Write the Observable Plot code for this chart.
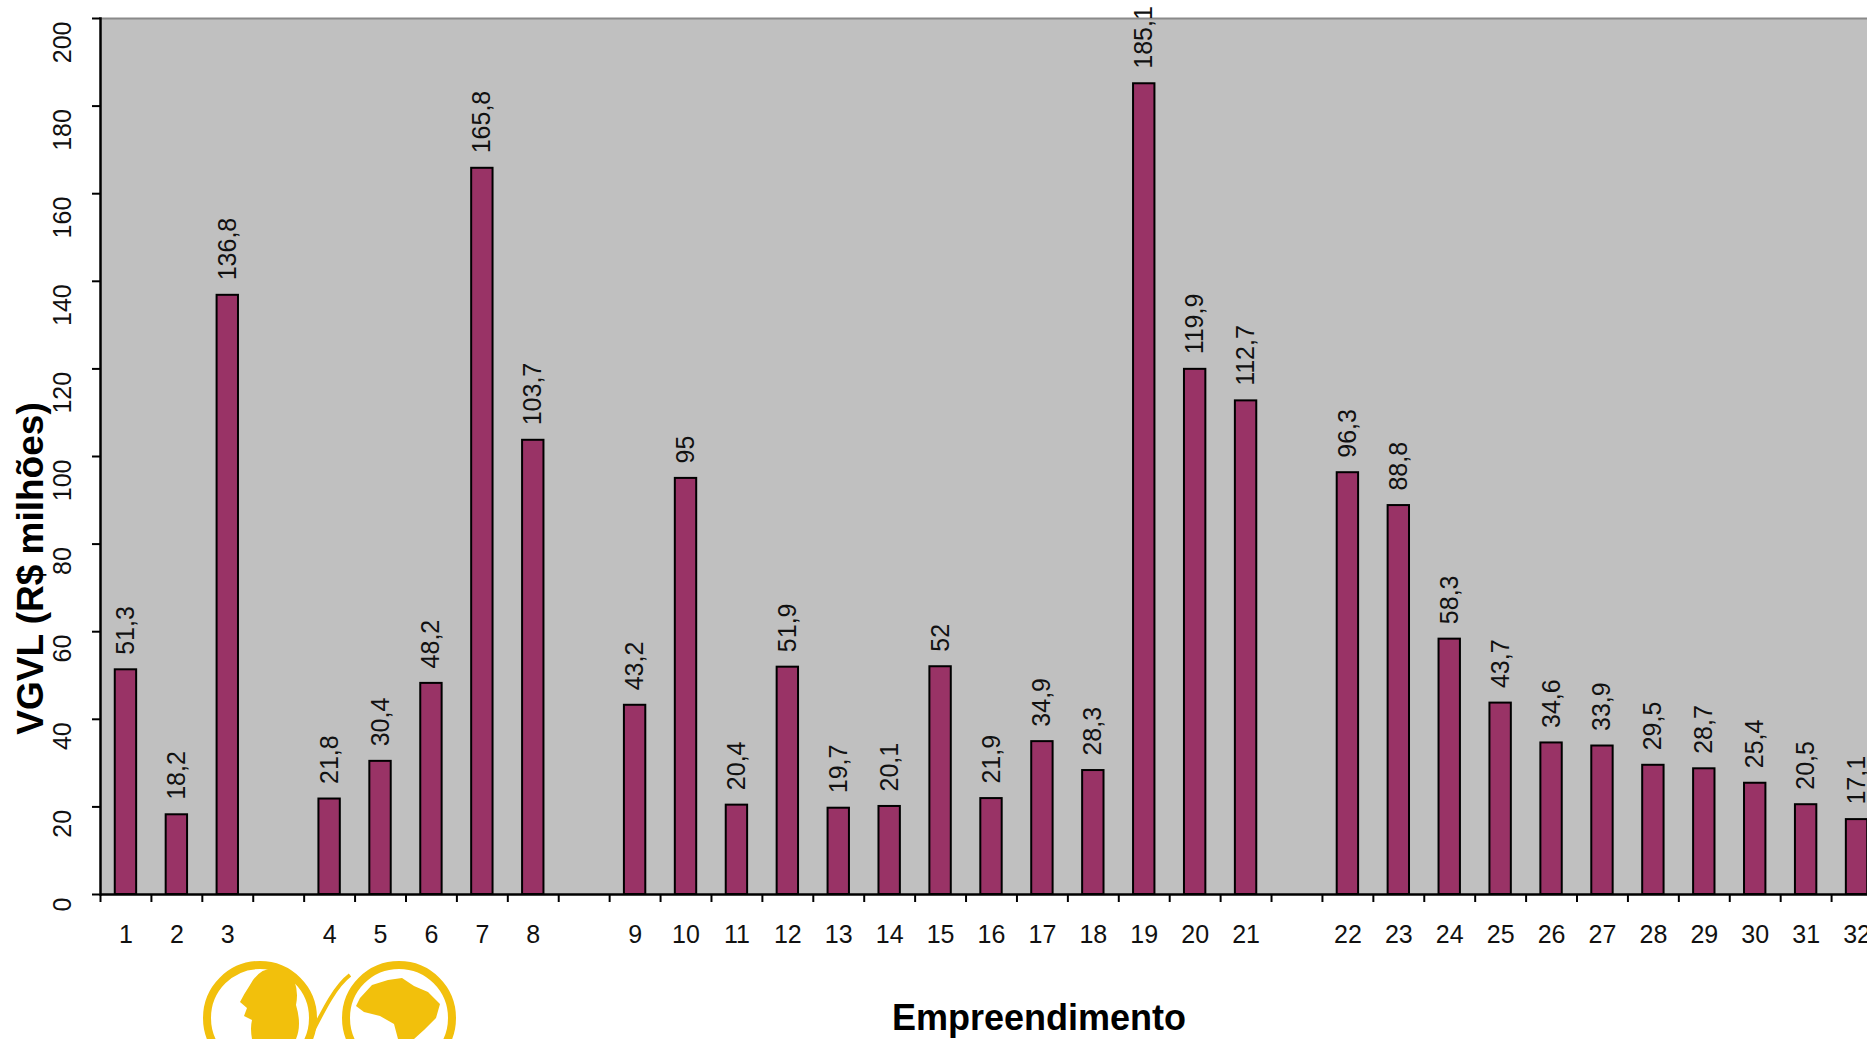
<!DOCTYPE html>
<html>
<head>
<meta charset="utf-8">
<script src="https://cdn.jsdelivr.net/npm/d3@7"></script>
<script src="https://cdn.jsdelivr.net/npm/@observablehq/plot@0.6"></script>
<style>
html, body { margin: 0; padding: 0; background: #fff; overflow: hidden; width: 1867px; height: 1039px; }
#chart { position: absolute; left: 0; top: 0; }
#logo { position: absolute; left: 0; top: 0; pointer-events: none; }
</style>
</head>
<body>
<div id="chart"></div>
<svg id="logo" width="1867" height="1039">
  <g fill="none" stroke="#f2c00c" stroke-width="8">
    <circle cx="260" cy="1018" r="53"></circle>
    <circle cx="399" cy="1018" r="53"></circle>
    <path d="M300,1055 C315,1030 330,990 350,975" stroke-width="4"></path>
  </g>
  <g fill="#f2c00c">
    <path d="M250,985 Q262,962 288,970 Q300,985 296,1005 Q302,1025 296,1039 L252,1039 Q250,1028 252,1020 L244,1016 L247,1008 L240,1002 Q244,994 250,985 Z"></path>
    <path d="M360,998 L372,985 L388,980 L402,978 L414,986 L428,992 L440,1004 L436,1018 L424,1030 L414,1039 L398,1039 L394,1024 L380,1016 L364,1012 L356,1006 Z"></path>
  </g>
</svg>
<script>
// Category labels (Empreendimento) and VGVL values (R$ milhões)
const categories = ["1","2","3","4","5","6","7","8","9","10","11","12","13","14","15","16","17","18","19","20","21","22","23","24","25","26","27","28","29","30","31","32"];
const values = [51.3, 18.2, 136.8, 21.8, 30.4, 48.2, 165.8, 103.7, 43.2, 95, 20.4, 51.9, 19.7, 20.1, 52, 21.9, 34.9, 28.3, 185.1, 119.9, 112.7, 96.3, 88.8, 58.3, 43.7, 34.6, 33.9, 29.5, 28.7, 25.4, 20.5, 17.1];
// x slots, with empty slots separating groups
const slots = ["1","2","3","gap1","4","5","6","7","8","gap2","9","10","11","12","13","14","15","16","17","18","19","20","21","gap3","22","23","24","25","26","27","28","29","30","31","32"];
const yTicks = [0, 20, 40, 60, 80, 100, 120, 140, 160, 180, 200];

const data = categories.map((c, i) => ({cat: c, v: values[i]}));
const fmt = v => String(v).replace(".", ",");

const W = 1867, H = 1039;
const mLeft = 100, mTop = 18, axisY0 = 894;
const xEnd = 1882;
const step = (xEnd - mLeft) / slots.length;
const pxPerUnit = (axisY0 - mTop) / 200;
const font = "'Liberation Sans', Arial, Helvetica, sans-serif";

const chart = Plot.plot({
  width: W,
  height: H,
  marginLeft: mLeft,
  marginTop: mTop,
  marginBottom: H - axisY0,
  marginRight: 0,
  style: {fontFamily: font, fontSize: "25px", color: "#000", background: "transparent", overflow: "visible", maxWidth: "none"},
  x: {domain: slots, range: [mLeft, xEnd], paddingInner: 0.58, paddingOuter: 0.29, align: 0.5, axis: null},
  y: {domain: [0, 200], axis: null},
  marks: [
    Plot.frame({fill: "#c0c0c0", stroke: null}),
    Plot.frame({anchor: "top", stroke: "#8a8a8a", strokeWidth: 2}),
    Plot.barY(data, {x: "cat", y: "v", fill: "#993366", stroke: "#000", strokeWidth: 2}),
    Plot.ruleY([0], {stroke: "#000", strokeWidth: 2.5}),
    Plot.frame({anchor: "left", stroke: "#000", strokeWidth: 2.5}),
    Plot.axisY({ticks: yTicks, tickSize: 8, tickFormat: () => "", label: null, stroke: "#000", strokeWidth: 2}),
    Plot.text(yTicks, {frameAnchor: "left", y: d => d, text: d => String(d), rotate: -90, textAnchor: "end", lineAnchor: "middle", dx: -38, dy: 3, fontSize: 25, fill: "#111"}),
    Plot.ruleX(slots, {x: d => d, y1: 0, y2: -8 / pxPerUnit, dx: -step / 2, stroke: "#000", strokeWidth: 2}),
    Plot.axisX({tickSize: 0, tickPadding: 31, tickFormat: d => d.startsWith("gap") ? "" : d, label: null, fontSize: 25, fill: "#111"}),
    Plot.text(data, {x: "cat", y: "v", text: d => fmt(d.v), rotate: -90, textAnchor: "start", lineAnchor: "middle", dy: -15, fontSize: 25, fill: "#111"}),
    Plot.text(["VGVL (R$ milhões)"], {frameAnchor: "left", text: d => d, rotate: -90, textAnchor: "middle", lineAnchor: "middle", dx: -69, dy: 112, fontSize: 37, fontWeight: "bold", fill: "#000"}),
    Plot.text(["Empreendimento"], {frameAnchor: "bottom", text: d => d, textAnchor: "middle", lineAnchor: "bottom", dx: 55, dy: 135, fontSize: 36, fontWeight: "bold", fill: "#000"})
  ]
});
document.getElementById("chart").appendChild(chart);
</script>
</body>
</html>
